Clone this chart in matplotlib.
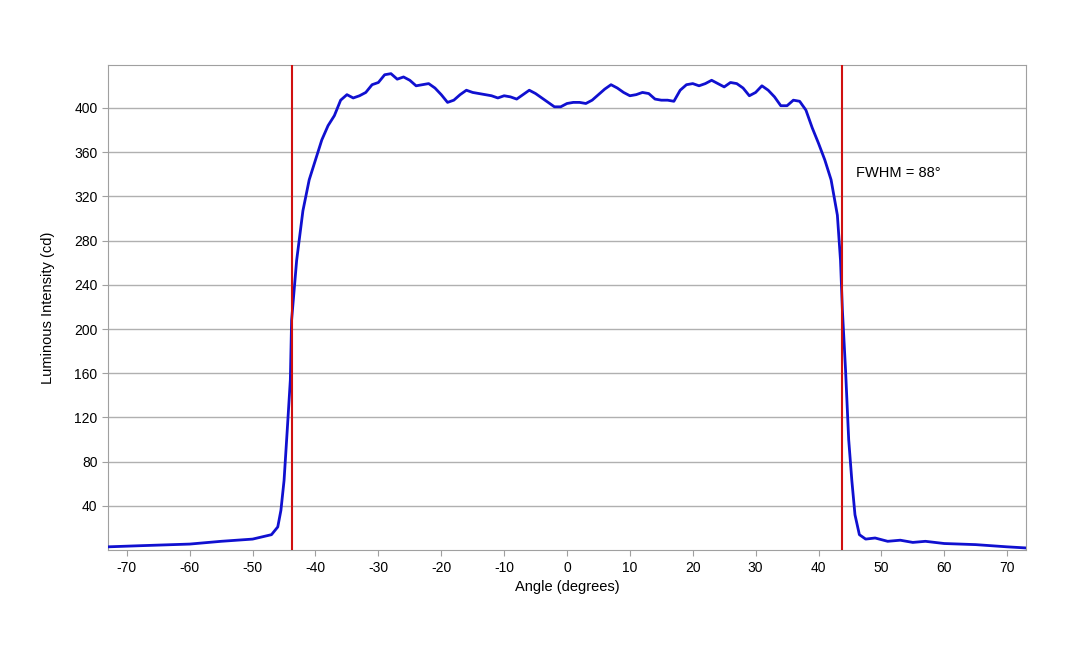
import matplotlib
matplotlib.use("Agg")
import matplotlib.pyplot as plt

angles = [-73,-68,-60,-55,-50,-47,-46,-45.5,-45,-44.5,-44,-43.8,-43,-42,-41,-40,-39,-38,-37,-36,-35,-34,-33,-32,-31,-30,-29,-28,-27,-26,-25,-24,-23,-22,-21,-20,-19,-18,-17,-16,-15,-14,-13,-12,-11,-10,-9,-8,-7,-6,-5,-4,-3,-2,-1,0,1,2,3,4,5,6,7,8,9,10,11,12,13,14,15,16,17,18,19,20,21,22,23,24,25,26,27,28,29,30,31,32,33,34,35,36,37,38,39,40,41,42,43,43.5,43.8,44.3,44.8,45.3,45.8,46.5,47.5,49,51,53,55,57,60,65,70,73]
intensity = [3,4,5.5,8,10,14,21,36,63,108,154,208,262,307,335,353,371,384,393,407,412,409,411,414,421,423,430,431,426,428,425,420,421,422,418,412,405,407,412,416,414,413,412,411,409,411,410,408,412,416,413,409,405,401,401,404,405,405,404,407,412,417,421,418,414,411,412,414,413,408,407,407,406,416,421,422,420,422,425,422,419,423,422,418,411,414,420,416,410,402,402,407,406,398,382,368,353,335,303,262,217,163,100,63,32,14,10,11,8,9,7,8,6,5,3,2]
fwhm_edges = [-43.7, 43.7]
fwhm_label = "FWHM = 88°"

plt.rcParams['font.family'] = ['Liberation Sans', 'DejaVu Sans']
plt.rcParams['axes.unicode_minus'] = False
fig = plt.figure(figsize=(10.8, 6.48), dpi=100)
ax = fig.add_axes([0.1, 0.151, 0.85, 0.749])
ax.plot(angles, intensity, color='#1010d0', lw=2, zorder=3)
for e in fwhm_edges:
    ax.axvline(e, color='#d01010', lw=1.5, zorder=4)
ax.text(46.0, 335, fwhm_label, fontsize=10.5, va='bottom')
ax.set_xlim(-73, 73)
ax.set_ylim(0, 439)
ax.set_xticks(range(-70, 71, 10))
ax.set_yticks(range(40, 401, 40))
ax.grid(axis='y', color='#b0b0b0', lw=1)
ax.set_axisbelow(True)
for s in ax.spines.values():
    s.set_color('#a0a0a0')
ax.tick_params(labelsize=10, length=4, color='#a0a0a0')
ax.set_xlabel('Angle (degrees)', fontsize=10.5)
ax.set_ylabel('Luminous Intensity (cd)', fontsize=10.5, labelpad=14)
fig.savefig('out.png', dpi=100)
